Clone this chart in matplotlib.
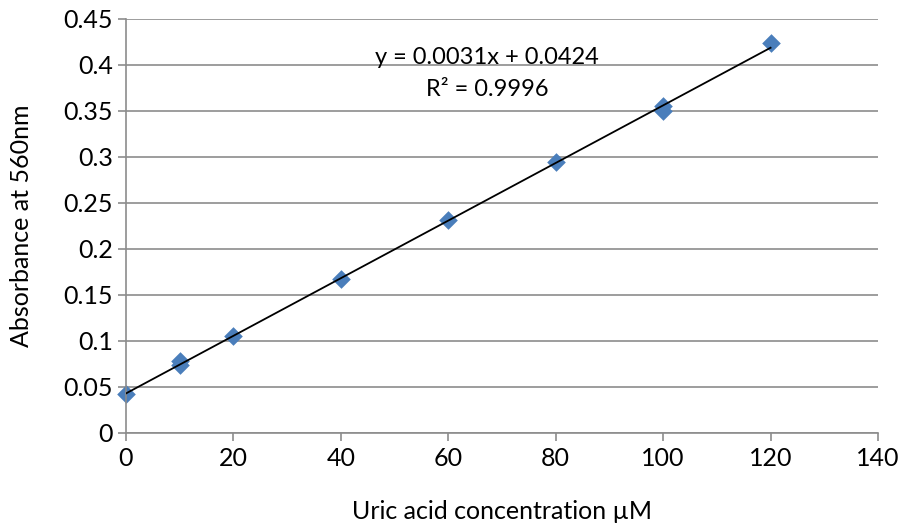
import matplotlib
matplotlib.use("Agg")
import matplotlib.pyplot as plt
import numpy as np

plt.rcParams['font.family'] = ['Lato', 'DejaVu Sans']

conc = [0, 10, 10, 20, 40, 60, 80, 100, 100, 120]
absorb = [0.042, 0.074, 0.078, 0.105, 0.167, 0.231, 0.295, 0.350, 0.355, 0.424]
x_ticks = [0, 20, 40, 60, 80, 100, 120, 140]
y_ticks = [0, 0.05, 0.1, 0.15, 0.2, 0.25, 0.3, 0.35, 0.4, 0.45]
y_labels = ['0', '0.05', '0.1', '0.15', '0.2', '0.25', '0.3', '0.35', '0.4', '0.45']
eq_text = "y = 0.0031x + 0.0424"
r2_text = "R² = 0.9996"

W, H = 902, 531
fig = plt.figure(figsize=(W/100, H/100), dpi=100)
ax = fig.add_axes([126/W, 1-433/H, (878-126)/W, (433-19)/H])

slope, intercept = np.polyfit(conc, absorb, 1)
xl = np.array([min(conc), max(conc)])
ax.plot(xl, slope*xl + intercept, color='black', lw=1.3, zorder=3)
ax.scatter(conc, absorb, marker='D', s=90, color='#4a7ebb', zorder=2, linewidths=0, clip_on=False)

ax.set_xlim(0, 140)
ax.set_ylim(0, 0.45)
ax.set_xticks(x_ticks)
ax.set_yticks(y_ticks)
ax.set_yticklabels(y_labels)
ax.yaxis.grid(True, color='#8c8c8c', lw=1.2)
ax.set_axisbelow(True)
for s in ['top', 'right']:
    ax.spines[s].set_visible(False)
for s in ['left', 'bottom']:
    ax.spines[s].set_color('#8c8c8c')
    ax.spines[s].set_linewidth(1.2)
ax.tick_params(axis='both', direction='out', length=6, color='#8c8c8c', labelsize=18, width=1.2)
ax.tick_params(axis='x', pad=4)
ax.set_xlabel('Uric acid concentration µM', fontsize=18, labelpad=22)
ax.set_ylabel('Absorbance at 560nm', fontsize=18, labelpad=22)

ax.text(487/W, 1-57/H, eq_text, transform=fig.transFigure, fontsize=17, ha='center', va='center')
ax.text(487/W, 1-90/H, r2_text, transform=fig.transFigure, fontsize=17, ha='center', va='center')

fig.savefig('out.png', dpi=100)
